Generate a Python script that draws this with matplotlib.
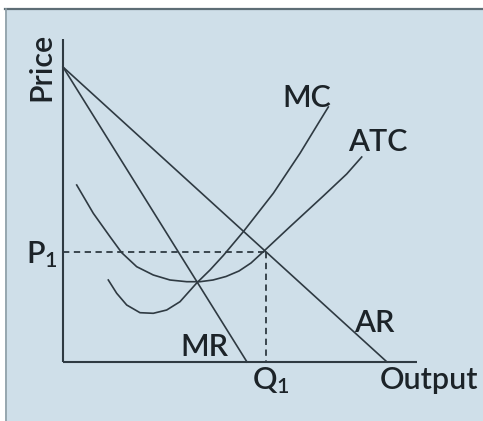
import matplotlib
matplotlib.use('Agg')
from matplotlib import pyplot as plt
from matplotlib.patches import Rectangle
from matplotlib.lines import Line2D

# Curve values (quantity, price), origin at the axes corner
atc_q = [13.7, 30.3, 47, 58.7, 73.7, 90.3, 107, 123.7, 137, 150, 163, 176, 188, 200.3, 227, 260.3, 283.7, 298.7]
atc_p = [177, 148.7, 125.3, 109.3, 95.3, 87, 82, 80.3, 80.3, 82, 85.5, 91, 99, 110.3, 135.3, 166, 188, 205]

mc_q = [45.3, 53.7, 63.7, 77, 90.3, 103.7, 117, 133.7, 147, 160.3, 180.3, 210.3, 237, 255.3, 265.3]
mc_p = [82, 68.7, 57, 49.3, 48.7, 52, 60.3, 79, 92, 106.5, 130.3, 168.7, 208.7, 238.7, 255]

ar_q = [0, 324]
ar_p = [295, 0]
mr_q = [0, 184]
mr_p = [295, 0]

q1 = 203
p1 = 110
x_axis_end = 354
y_axis_end = 323

line_color = '#2f3a42'
text_color = '#1c2328'
bg_color = '#cfdfe9'

plt.rcParams['font.family'] = ['Lato', 'DejaVu Sans']
plt.rcParams['font.weight'] = 'semibold'
plt.rcParams['mathtext.fontset'] = 'custom'
plt.rcParams['mathtext.rm'] = 'Lato:semibold'
plt.rcParams['mathtext.it'] = 'Lato:semibold'

fig = plt.figure(figsize=(4.83, 4.21), dpi=100, facecolor='white')

# light blue panel with a dark top edge and a grey left edge
fig.patches.append(Rectangle((5 / 483, 0), 1, 1 - 8 / 421, transform=fig.transFigure,
                             facecolor=bg_color, edgecolor='none', zorder=-5))
fig.lines.append(Line2D([5 / 483, 1], [1 - 8.5 / 421] * 2, transform=fig.transFigure,
                        color='#5d6d75', lw=1.6, zorder=-4))
fig.lines.append(Line2D([5.5 / 483] * 2, [0, 1 - 8.5 / 421], transform=fig.transFigure,
                        color='#8d9da5', lw=1.2, zorder=-4))

ax = fig.add_axes([0, 0, 1, 1])
ax.set_xlim(-63, 420)
ax.set_ylim(-59, 362)
ax.axis('off')
ax.patch.set_alpha(0)

# axes
ax.plot([0, 0], [0, y_axis_end], color=line_color, lw=1.5, solid_capstyle='butt')
ax.plot([0, x_axis_end], [0, 0], color=line_color, lw=1.5, solid_capstyle='butt')

# curves
ax.plot(ar_q, ar_p, color=line_color, lw=1.2)
ax.plot(mr_q, mr_p, color=line_color, lw=1.2)
ax.plot(atc_q, atc_p, color=line_color, lw=1.2)
ax.plot(mc_q, mc_p, color=line_color, lw=1.2)

# P1 / Q1 guides
ax.plot([0, q1], [p1, p1], color=line_color, lw=1.3, ls=(0, (3.5, 2.5)))
ax.plot([q1, q1], [p1, 0], color=line_color, lw=1.3, ls=(0, (3.5, 2.5)))

fs = 22
ax.text(-22, 295, 'Price', rotation=90, ha='center', va='center', fontsize=fs, color=text_color)
ax.text(244, 264, 'MC', ha='center', va='center', fontsize=fs, color=text_color)
ax.text(315, 220, 'ATC', ha='center', va='center', fontsize=fs, color=text_color)
ax.text(311, 39, 'AR', ha='center', va='center', fontsize=fs, color=text_color)
ax.text(141, 15, 'MR', ha='center', va='center', fontsize=fs, color=text_color)
ax.text(-5, 99, r'P$_\mathrm{1}$', ha='right', va='baseline', fontsize=fs, color=text_color)
ax.text(208, -27, r'Q$_\mathrm{1}$', ha='center', va='baseline', fontsize=fs, color=text_color)
ax.text(317, -27, 'Output', ha='left', va='baseline', fontsize=fs, color=text_color)

fig.savefig('out.png', dpi=100, facecolor='white')
